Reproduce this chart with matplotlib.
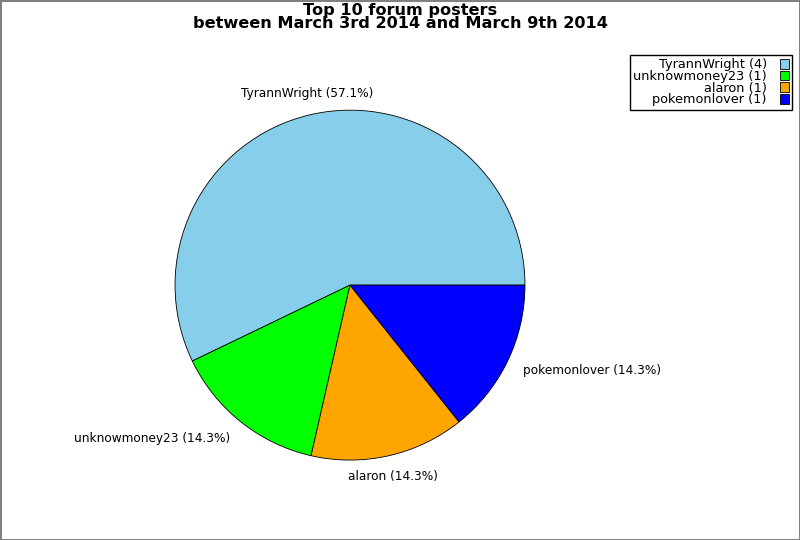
import matplotlib
matplotlib.use('Agg')
import matplotlib.pyplot as plt
from matplotlib.patches import Patch

posters = ['TyrannWright', 'unknowmoney23', 'alaron', 'pokemonlover']
posts = [4, 1, 1, 1]
colors = ['skyblue', 'lime', 'orange', 'blue']

total = sum(posts)
pie_labels = [f'{n} ({100.0 * c / total:.1f}%)' for n, c in zip(posters, posts)]
legend_labels = [f'{n} ({c})' for n, c in zip(posters, posts)]

fig = plt.figure(figsize=(8, 5.4), dpi=100)
fig.patch.set_edgecolor('gray')
fig.patch.set_linewidth(2)

ax = fig.add_axes([0.164, 0.067, 0.547, 0.810])
wedges, texts = ax.pie(posts, labels=pie_labels, colors=colors, startangle=0,
                       labeldistance=1.1,
                       wedgeprops={'edgecolor': 'black', 'linewidth': 0.6},
                       textprops={'fontsize': 8.7})
ax.set_aspect('equal')

# old-style label alignment: centred when the label sits near the vertical axis
for t in texts:
    x, y = t.get_position()
    t.set_ha({-1: 'right', 0: 'center', 1: 'left'}[int(round(x))])
    t.set_y(y * 1.02)

fig.suptitle('Top 10 forum posters\nbetween March 3rd 2014 and March 9th 2014',
             fontsize=11.6, fontweight='bold', y=0.994, linespacing=0.83)

handles = [Patch(facecolor=c, edgecolor='black', linewidth=0.6) for c in colors]
leg = fig.legend(handles, legend_labels, loc='upper right',
                 bbox_to_anchor=(0.99, 0.898), borderaxespad=0, fontsize=9.3,
                 markerfirst=False, labelspacing=-0.1, handlelength=0.7,
                 handleheight=0.75, handletextpad=1.0, borderpad=0.25,
                 fancybox=False, framealpha=1)
leg.get_frame().set_edgecolor('black')

fig.savefig('out.png', dpi=100)
